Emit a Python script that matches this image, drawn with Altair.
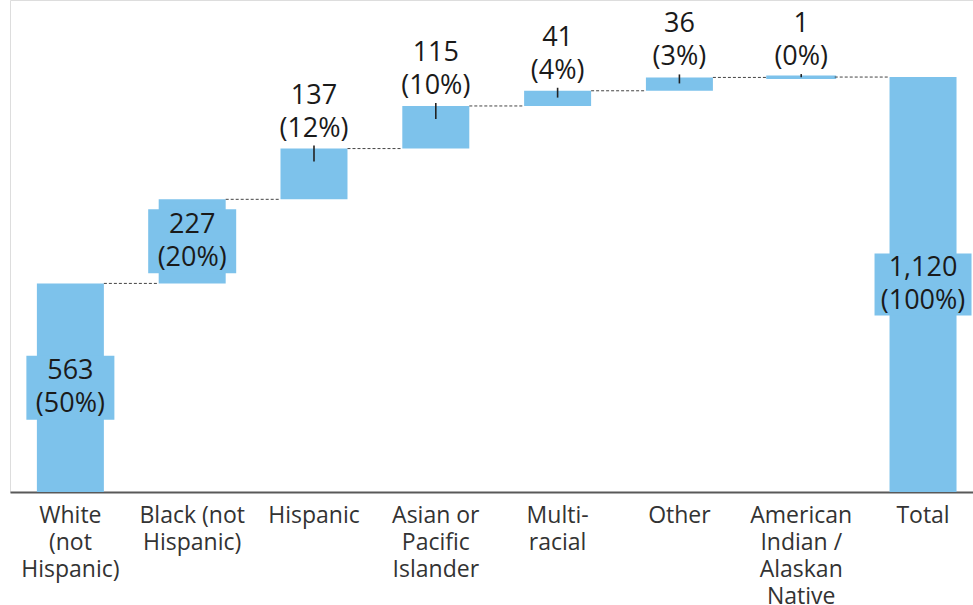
import altair as alt
import pandas as pd

# Student counts by race / ethnicity, stacked as a waterfall ending in a total bar
categories = [
    "White\n(not\nHispanic)",
    "Black (not\nHispanic)",
    "Hispanic",
    "Asian or\nPacific\nIslander",
    "Multi-\nracial",
    "Other",
    "American\nIndian /\nAlaskan\nNative",
]
counts = [563, 227, 137, 115, 41, 36, 1]
label_inside = [True, True, False, False, False, False, False]
total_name = "Total"

BAR = "#7DC2EB"
FONT = "Open Sans"
LH = 33  # value label line height

total = sum(counts)
rows = []
running = 0
for cat, n, ins in zip(categories, counts, label_inside):
    rows.append(dict(cat=cat, start=running, end=running + n, value=n, inside=ins))
    running += n
rows.append(dict(cat=total_name, start=0, end=total, value=total, inside=True))
bars = pd.DataFrame(rows)
bars["mid"] = (bars["start"] + bars["end"]) / 2
bars["label"] = [f"{v:,}\n({round(100 * v / total)}%)" for v in bars["value"]]
bars["wide"] = bars["cat"] == total_name
# leader tick length, limited for thin steps
bars["tick_lo"] = [e - min(35, 0.45 * v) for e, v in zip(bars["end"], bars["value"])]

order = list(bars["cat"])
conn = pd.DataFrame({
    "cat": order[:-1],
    "next_cat": order[1:],
    "level": list(bars["end"][:-1]),
})

x_scale = alt.Scale(domain=order, type="band", paddingInner=0.45,
                    paddingOuter=0.178, align=0.62, round=False)
y_scale = alt.Scale(domain=[0, 1328], nice=False)

x_axis = alt.Axis(
    title=None, labelAngle=0, ticks=False, domainColor="#595959", domainWidth=2,
    labelFont=FONT, labelFontSize=23, labelLineHeight=27, labelColor="#333333",
    labelPadding=12, labelBaseline="top", labelOverlap=False, labelLimit=0,
    labelExpr="split(datum.label, '\\n')", grid=False,
)

X = alt.X("cat:N", scale=x_scale, axis=x_axis, sort=order)

# very thin steps get a hairline outline so they stay visible
bar_layer = alt.Chart(bars).mark_bar(color=BAR, stroke=BAR).encode(
    x=X,
    y=alt.Y("start:Q", scale=y_scale, axis=None),
    y2="end:Q",
    strokeWidth=alt.condition("datum.value < 5", alt.value(3), alt.value(0)),
)

conn_layer = alt.Chart(conn).mark_rule(
    color="#444444", strokeWidth=1, strokeDash=[3, 2], xOffset=33.5, x2Offset=-33.5
).encode(
    x=alt.X("cat:N", bandPosition=0.5),
    x2=alt.X2("next_cat", bandPosition=0.5),
    y=alt.Y("level:Q", scale=y_scale),
)

box_small = alt.Chart(bars).transform_filter(
    "datum.inside && !datum.wide"
).mark_bar(color=BAR, width=88, yOffset=-32, y2Offset=32).encode(
    x=X, y=alt.Y("mid:Q", scale=y_scale), y2="mid:Q",
)

box_wide = alt.Chart(bars).transform_filter(
    "datum.wide"
).mark_bar(color=BAR, width=97, yOffset=-31, y2Offset=31).encode(
    x=X, y=alt.Y("mid:Q", scale=y_scale), y2="mid:Q",
)

ticks = alt.Chart(bars).transform_filter("!datum.inside").mark_rule(
    color="#222222", strokeWidth=1.6, yOffset=-3
).encode(
    x=X, y=alt.Y("end:Q", scale=y_scale), y2="tick_lo:Q",
)

text_in = alt.Chart(bars).transform_filter("datum.inside").transform_calculate(
    lines="split(datum.label, '\\n')"
).mark_text(
    font=FONT, fontSize=27, lineHeight=LH, baseline="middle", dy=-LH / 2,
    color="#1a1a1a"
).encode(
    x=X, y=alt.Y("mid:Q", scale=y_scale), text="lines:N",
)

text_up = alt.Chart(bars).transform_filter("!datum.inside").transform_calculate(
    lines="split(datum.label, '\\n')"
).mark_text(
    font=FONT, fontSize=27, lineHeight=LH, baseline="alphabetic", dy=-12 - LH,
    color="#1a1a1a"
).encode(
    x=X, y=alt.Y("end:Q", scale=y_scale), text="lines:N",
)

chart = alt.layer(
    bar_layer, conn_layer, box_small, box_wide, ticks, text_in, text_up
).properties(
    width=963, height=492,
    autosize=alt.AutoSizeParams(type="none"),
    padding={"left": 10, "top": 0, "right": 0, "bottom": 113},
).configure_view(stroke=None).configure(background="white")

chart.save("out.html", embed_options={"renderer": "svg", "actions": False})
